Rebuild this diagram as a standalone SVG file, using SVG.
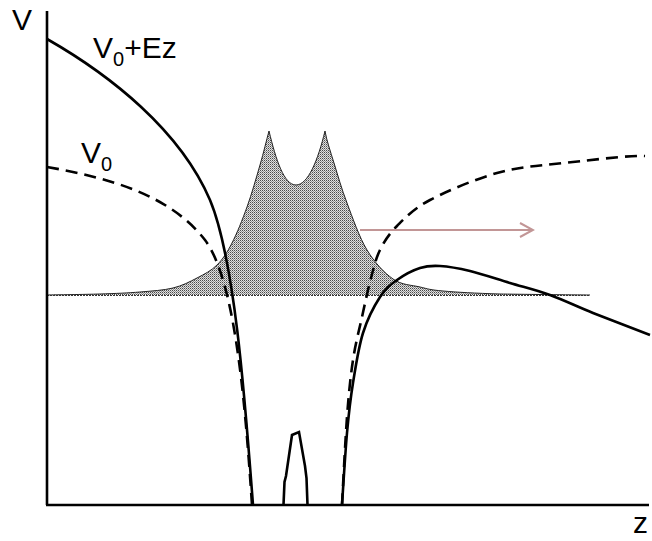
<svg xmlns="http://www.w3.org/2000/svg" width="652" height="541" viewBox="0 0 652 541">
<style>
.lbl{font-family:"Liberation Sans",Arial,sans-serif;font-size:30px;fill:#000}
.sub{font-size:20px}
.solid{fill:none;stroke:#000;stroke-width:2.6}
.dash{fill:none;stroke:#000;stroke-width:2.6;stroke-dasharray:12 7}
.axis{fill:none;stroke:#000;stroke-width:2.6}
</style>
<defs>
<pattern id="dots" width="2" height="2" patternUnits="userSpaceOnUse">
<rect width="2" height="2" fill="#e0e0e0"/>
<rect x="0" y="0" width="1" height="1" fill="#4a4a4a"/>
<rect x="1" y="1" width="1" height="1" fill="#909090"/>
</pattern>
<marker id="chev" markerWidth="16" markerHeight="18" refX="14" refY="8" orient="auto" markerUnits="userSpaceOnUse">
<polyline points="1,1 14,8 1,15" fill="none" stroke="#c29696" stroke-width="2"/>
</marker>
</defs>
<g id="shading">
<path d="M47,295 C55.8,294.8 84.5,294.5 100,294 C115.5,293.5 127.8,293 140,292 C152.2,291 163.5,290.3 173,288 C182.5,285.7 189.7,281.8 197,278 C204.3,274.2 211.2,270.8 217,265 C222.8,259.2 227,252.7 232,243 C237,233.3 242.3,220 247,207 C251.7,194 256.3,177.7 260,165 C263.7,152.3 266.5,140 269,131 C276,160 284,185 296,185 C308,185 318,160 325,131 C326.5,140 330.3,151 334,163 C337.7,175 341.5,188.5 347,203 C352.5,217.5 359.3,237.3 367,250 C374.7,262.7 384.2,272.8 393,279 C401.8,285.2 411.7,285 420,287 C428.3,289 429.7,289.8 443,291 C456.3,292.2 475.5,293.3 500,294 C515,294.2 575,295 590,295 L47,295 Z" fill="url(#dots)" stroke="none"/>
<path d="M47,295 C55.8,294.8 84.5,294.5 100,294 C115.5,293.5 127.8,293 140,292 C152.2,291 163.5,290.3 173,288 C182.5,285.7 189.7,281.8 197,278 C204.3,274.2 211.2,270.8 217,265 C222.8,259.2 227,252.7 232,243 C237,233.3 242.3,220 247,207 C251.7,194 256.3,177.7 260,165 C263.7,152.3 266.5,140 269,131 C276,160 284,185 296,185 C308,185 318,160 325,131 C326.5,140 330.3,151 334,163 C337.7,175 341.5,188.5 347,203 C352.5,217.5 359.3,237.3 367,250 C374.7,262.7 384.2,272.8 393,279 C401.8,285.2 411.7,285 420,287 C428.3,289 429.7,289.8 443,291 C456.3,292.2 475.5,293.3 500,294 C515,294.2 575,295 590,295" fill="none" stroke="#222" stroke-width="1"/>
<line x1="47" y1="295.5" x2="590" y2="295.5" stroke="#333" stroke-width="1" stroke-dasharray="2 1"/>
</g>
<g id="axes">
<line class="axis" x1="47" y1="11" x2="47" y2="505"/>
<line class="axis" x1="46" y1="505" x2="649" y2="505"/>
</g>
<g id="connectors">
<path id="solid-left" class="solid" d="M47,39 C110,75 180,130 210,200 C235,260 245,400 253,505"/>
<path id="dash-left" class="dash" d="M47,167 C110,178 170,195 205,240 C235,280 245,400 252,505"/>
<path id="dash-right" class="dash" d="M342,505 C342.8,490.3 345.2,441.2 347,417 C348.8,392.8 350.5,376.7 353,360 C355.5,343.3 359,330.7 362,317 C365,303.3 368,289.2 371,278 C374,266.8 375.7,258.7 380,250 C384.3,241.3 388.7,234.3 397,226 C405.3,217.7 413.3,208.8 430,200 C446.7,191.2 474.8,179.2 497,173 C519.2,166.8 538.3,165.8 563,163 C576.7,161.8 631.3,154.8 645,156"/>
<path id="solid-right" class="solid" d="M342,505 C342.8,493 345.2,453.3 347,433 C348.8,412.7 350.3,399.7 353,383 C355.7,366.3 358.5,347.3 363,333 C367.5,318.7 374.3,305.8 380,297 C385.7,288.2 390.3,284.8 397,280 C403.7,275.2 412.8,270.3 420,268 C427.2,265.7 431.7,265.5 440,266 C448.3,266.5 458.3,268.2 470,271 C481.7,273.8 496.7,279 510,283 C523.3,287 536.2,290 550,295 C563.8,300 576.3,306.3 593,313 C602.5,316.7 640.5,331.3 650,335"/>
<path id="small-peak" class="solid" stroke-width="3" d="M283.5,505 L284.5,482 L286,476 L292,435 L299,432 L305,466 L306.5,478 L307.5,505"/>
<line id="arrow" x1="360" y1="230" x2="533" y2="230" stroke="#c29696" stroke-width="2" marker-end="url(#chev)"/>
</g>
<g id="labels">
<text class="lbl" x="12" y="30">V</text>
<text class="lbl" x="93" y="58">V<tspan class="sub" dy="8">0</tspan><tspan dy="-8">+Ez</tspan></text>
<text class="lbl" x="81" y="163">V<tspan class="sub" dy="8">0</tspan></text>
<text class="lbl" x="633" y="533">z</text>
</g>
</svg>
